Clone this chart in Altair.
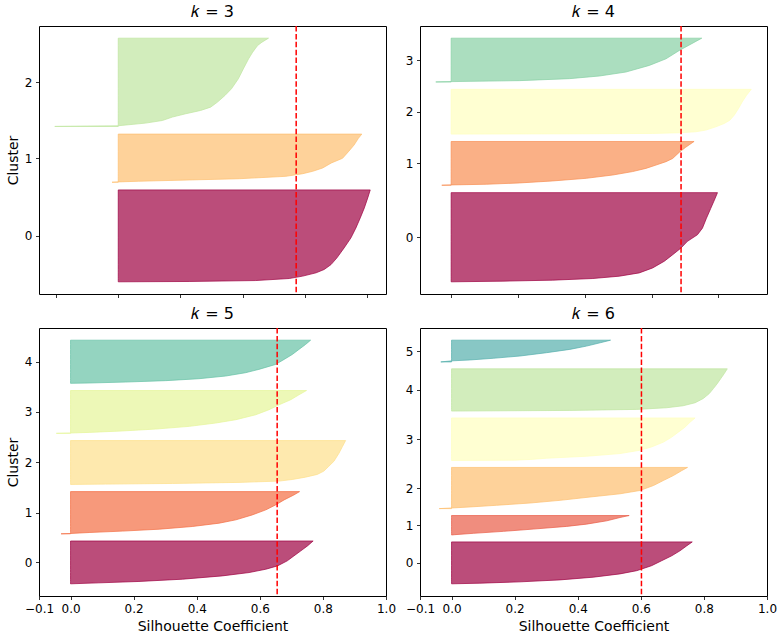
import altair as alt
import pandas as pd

PADDING = 66  # samples between clusters (len(X)//30)
SCORES = {3: 0.572, 4: 0.688, 5: 0.655, 6: 0.602}

# Silhouette profiles: rank within cluster (from bottom) and coefficient
K3_RANKS = [
    [0, 3, 11, 29, 50, 79, 108, 151, 210, 297, 385, 472, 560, 647, 735, 805],
    [0, 3, 9, 20, 31, 52, 75, 96, 125, 169, 210, 268, 326, 385, 422],
    [0, 6, 15, 29, 52, 82, 111, 140, 169, 213, 271, 330, 417, 504, 592, 650, 709, 738, 773],
]
K3_COEFS = [
    [0.0, 0.228, 0.442, 0.550, 0.593, 0.636, 0.662, 0.684, 0.703, 0.726, 0.748, 0.764, 0.778, 0.791, 0.802, 0.810],
    [-0.02, 0.0, 0.066, 0.228, 0.389, 0.539, 0.593, 0.625, 0.657, 0.685, 0.721, 0.740, 0.758, 0.772, 0.783],
    [-0.204, 0.0, 0.034, 0.088, 0.142, 0.174, 0.217, 0.265, 0.297, 0.319, 0.343, 0.364, 0.386, 0.402, 0.419, 0.432, 0.448, 0.462, 0.483],
]

K4_RANKS = [
    [0, 6, 15, 30, 51, 81, 126, 187, 246, 307, 367, 427, 487, 577, 667, 757, 809],
    [0, 3, 9, 21, 39, 63, 93, 124, 153, 183, 214, 243, 300, 345, 397],
    [0, 3, 6, 12, 21, 36, 66, 96, 126, 171, 232, 292, 352, 406],
    [0, 3, 12, 30, 54, 90, 150, 210, 286, 397],
]
K4_COEFS = [
    [0.0, 0.155, 0.304, 0.424, 0.503, 0.563, 0.603, 0.638, 0.663, 0.688, 0.707, 0.737, 0.752, 0.764, 0.777, 0.790, 0.797],
    [-0.028, 0.0, 0.105, 0.205, 0.304, 0.404, 0.484, 0.543, 0.583, 0.613, 0.643, 0.663, 0.683, 0.702, 0.727],
    [0.02, 0.404, 0.603, 0.683, 0.732, 0.762, 0.792, 0.817, 0.834, 0.847, 0.860, 0.871, 0.884, 0.898],
    [-0.046, 0.0, 0.205, 0.354, 0.444, 0.523, 0.593, 0.643, 0.683, 0.750],
]

K5_RANKS = [
    [0, 9, 22, 43, 74, 105, 136, 167, 214, 260, 307, 353, 399],
    [0, 3, 12, 25, 43, 68, 99, 130, 176, 223, 269, 316, 362, 393],
    [0, 3, 9, 19, 31, 46, 68, 93, 124, 170, 216, 291, 353, 409],
    [0, 3, 9, 22, 40, 65, 96, 127, 173, 220, 266, 313, 359, 399],
    [0, 3, 12, 25, 43, 68, 99, 130, 176, 223, 269, 316, 362, 402],
]
K5_COEFS = [
    [0.0, 0.090, 0.217, 0.355, 0.481, 0.566, 0.619, 0.656, 0.687, 0.708, 0.730, 0.751, 0.769],
    [-0.030, 0.0, 0.059, 0.164, 0.281, 0.386, 0.471, 0.524, 0.576, 0.619, 0.650, 0.677, 0.708, 0.726],
    [0.0, 0.111, 0.323, 0.534, 0.661, 0.703, 0.745, 0.782, 0.803, 0.819, 0.835, 0.851, 0.862, 0.872],
    [-0.045, 0.0, 0.059, 0.164, 0.270, 0.376, 0.460, 0.524, 0.587, 0.629, 0.661, 0.698, 0.724, 0.748],
    [0.0, 0.059, 0.175, 0.302, 0.407, 0.492, 0.555, 0.597, 0.650, 0.677, 0.703, 0.724, 0.745, 0.761],
]

K6_RANKS = [
    [0, 6, 19, 38, 64, 96, 127, 175, 223, 271, 319, 366, 405],
    [0, 3, 16, 35, 57, 83, 105, 137, 169, 188],
    [0, 6, 16, 32, 54, 80, 112, 143, 175, 223, 271, 319, 366, 398],
    [0, 3, 10, 22, 41, 67, 99, 131, 178, 226, 274, 322, 370, 411],
    [0, 6, 16, 32, 51, 80, 121, 169, 217, 264, 312, 360, 408],
    [0, 10, 19, 35, 57, 89, 121, 153, 185, 210],
]
K6_COEFS = [
    [0.0, 0.090, 0.217, 0.344, 0.449, 0.534, 0.587, 0.634, 0.666, 0.698, 0.724, 0.745, 0.763],
    [0.0, 0.01, 0.069, 0.164, 0.259, 0.365, 0.428, 0.492, 0.534, 0.563],
    [-0.039, 0.0, 0.059, 0.143, 0.249, 0.344, 0.439, 0.534, 0.597, 0.640, 0.671, 0.703, 0.729, 0.748],
    [0.0, 0.2, 0.25, 0.301, 0.428, 0.534, 0.597, 0.634, 0.672, 0.698, 0.719, 0.740, 0.756, 0.772],
    [0.0, 0.375, 0.587, 0.682, 0.734, 0.772, 0.798, 0.817, 0.830, 0.842, 0.853, 0.864, 0.874],
    [-0.034, 0.0, 0.059, 0.132, 0.217, 0.301, 0.375, 0.428, 0.471, 0.504],
]

BOTTOM_XTICKS = [-0.1, 0.0, 0.2, 0.4, 0.6, 0.8, 1.0]
TOP_XTICKS = {3: [-0.2, 0.0, 0.2, 0.4, 0.6, 0.8], 4: [0.0, 0.2, 0.4, 0.6, 0.8]}

SPECTRAL = [
    (158, 1, 66), (213, 62, 79), (244, 109, 67), (253, 174, 97), (254, 224, 139),
    (255, 255, 191), (230, 245, 152), (171, 221, 164), (102, 194, 165),
    (50, 136, 189), (94, 79, 162),
]


def spectral(t):
    t = min(max(t, 0.0), 1.0) * (len(SPECTRAL) - 1)
    i = min(int(t), len(SPECTRAL) - 2)
    f = t - i
    a, b = SPECTRAL[i], SPECTRAL[i + 1]
    return "#%02x%02x%02x" % tuple(round(a[j] + (b[j] - a[j]) * f) for j in range(3))


FONT = "DejaVu Sans"
W, H = 347, 268


def panel(k, ranks, coefs, bottom, left):
    rows = []
    ticks = []
    pos = PADDING
    for i, (rr, cc) in enumerate(zip(ranks, coefs)):
        n = rr[-1] + 1
        col = spectral(i / k)
        for r, c in zip(rr, cc):
            rows.append({"cluster": i, "y": pos + r, "coef": c, "color": col})
        ticks.append(pos + n // 2)
        pos += n + PADDING
    df = pd.DataFrame(rows)

    ylo, yhi = PADDING, df["y"].max()
    ym = 0.05 * (yhi - ylo)
    ydom = [ylo - ym, yhi + ym]

    if bottom:
        xdom = [-0.1, 1.0]
        xaxis = alt.Axis(values=BOTTOM_XTICKS, format=".1f", title="Silhouette Coefficient",
                         labelOverlap=False, labelFlush=False, titlePadding=5)
    else:
        xlo, xhi = min(df["coef"].min(), 0.0), df["coef"].max()
        xm = 0.05 * (xhi - xlo)
        xdom = [xlo - xm, xhi + xm]
        xaxis = alt.Axis(values=TOP_XTICKS[k], labels=False, title=None)

    tick_list = ",".join(str(t) for t in ticks)
    yaxis = alt.Axis(
        values=ticks,
        labelExpr="'' + indexof([" + tick_list + "], datum.value)",
        title="Cluster" if left else None,
        labelOverlap=False, labelFlush=False,
    )

    area = alt.Chart(df).mark_area(
        orient="horizontal", fillOpacity=0.7, strokeOpacity=0.7, strokeWidth=1
    ).encode(
        y=alt.Y("y:Q", scale=alt.Scale(domain=ydom, nice=False, zero=False), axis=yaxis),
        x=alt.X("coef:Q", scale=alt.Scale(domain=xdom, nice=False, zero=False), axis=xaxis,
                stack=None),
        x2=alt.datum(0),
        fill=alt.Fill("color:N", scale=None),
        stroke=alt.Stroke("color:N", scale=None),
        detail="cluster:N",
    )
    rule = alt.Chart(pd.DataFrame({"score": [SCORES[k]]})).mark_rule(
        color="red", strokeDash=[5.5, 2.4], strokeWidth=1.5
    ).encode(x="score:Q")

    return alt.layer(area, rule).properties(
        width=W,
        height=H,
        title=alt.TitleParams(
            text="𝑘 = %d" % k, fontSize=16, fontWeight="normal", font=FONT,
            color="black", offset=5,
        ),
    )


p3 = panel(3, K3_RANKS, K3_COEFS, False, True)
p4 = panel(4, K4_RANKS, K4_COEFS, False, False)
p5 = panel(5, K5_RANKS, K5_COEFS, True, True)
p6 = panel(6, K6_RANKS, K6_COEFS, True, False)

chart = alt.concat(
    p3, p4, p5, p6, columns=2, spacing=34, bounds="flush",
).properties(
    padding={"left": 5, "top": 3, "right": 5, "bottom": 2},
    background="white",
).configure_axis(
    grid=False, domain=False, tickColor="black", tickSize=3.5, tickWidth=0.8,
    labelColor="black", labelFontSize=12, labelFont=FONT, labelPadding=3.5,
    titleFont=FONT, titleFontSize=14, titleFontWeight="normal", titleColor="black",
).configure_view(stroke="black", strokeWidth=1)

chart.save("out.html", embed_options={"renderer": "svg", "actions": False})
